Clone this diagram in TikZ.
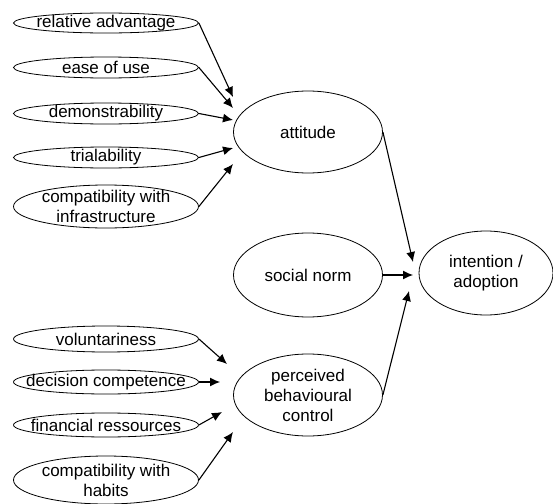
\documentclass[tikz,border=0pt]{standalone}
\usepackage{fontspec}
\setmainfont{Liberation Sans}
\usetikzlibrary{arrows.meta}
\usetikzlibrary{shapes.geometric}
\tikzset{
factor/.style={shape=ellipse, draw, minimum width=92.5pt, inner xsep=-25pt, inner ysep=-6pt, align=center},
construct/.style={shape=ellipse, draw, minimum width=74.5pt, minimum height=41pt, inner sep=-2pt, align=center},
link/.style={-{Latex[length=5pt,width=4.5pt]}, line width=0.55pt}}

\begin{document}
\begin{tikzpicture}[x=0.5pt, y=-0.5pt, font=\fontsize{8.5}{10}\selectfont]

                \useasboundingbox (0,0) rectangle (553,504);

                \node[factor, minimum height=10pt] (relAdv) at (106,23) {relative advantage};
                \node[factor, minimum height=10.5pt] (easeUse) at (106,67.5) {ease of use};
                \node[factor, minimum height=10.5pt] (demo) at (106,113.5) {demonstrability};
                \node[factor, minimum height=10.5pt] (trial) at (106,157.5) {trialability};
                \node[factor, minimum height=21.5pt] (compInfra) at (106,206.5) {compatibility with\\infrastructure};
                \node[factor, minimum height=13pt] (vol) at (106,339) {voluntariness};
                \node[factor, minimum height=12pt] (decComp) at (106,382) {decision competence};
                \node[factor, minimum height=12pt] (finRes) at (106,425) {financial ressources};
                \node[factor, minimum height=24pt] (compHab) at (106,480) {compatibility with\\habits};

                \node[construct] (att) at (308,132) {attitude};
                \node[construct, minimum height=42pt] (norm) at (308,275) {social norm};
                \node[construct] (pbc) at (308,395) {perceived\\behavioural\\control};
                \node[construct, minimum width=67pt, minimum height=42pt] (intent) at (486,273) {intention /\\adoption};

                \coordinate (tRelAdv) at (233,97);
                \coordinate (tEaseUse) at (233,108);
                \coordinate (tDemo) at (233,120);
                \coordinate (tTrial) at (233,148);
                \coordinate (tCompInfra) at (233,164);
                \coordinate (tVol) at (227,364);
                \coordinate (tDecComp) at (220,382);
                \coordinate (tFinRes) at (222,412);
                \coordinate (tCompHab) at (233,432);
                \coordinate (tAtt) at (413,262);
                \coordinate (tNorm) at (413,275);
                \coordinate (tPbc) at (409,291);

                \draw[link] (relAdv.east) -- (tRelAdv);
                \draw[link] (easeUse.east) -- (tEaseUse);
                \draw[link] (demo.east) -- (tDemo);
                \draw[link] (trial.east) -- (tTrial);
                \draw[link] (compInfra.east) -- (tCompInfra);
                \draw[link] (vol.east) -- (tVol);
                \draw[link] (decComp.east) -- (tDecComp);
                \draw[link] (finRes.east) -- (tFinRes);
                \draw[link] (compHab.east) -- (tCompHab);
                \draw[link] (att.east) -- (tAtt);
                \draw[link] (norm.east) -- (tNorm);
                \draw[link] (pbc.east) -- (tPbc);

            \end{tikzpicture}
\end{document}
